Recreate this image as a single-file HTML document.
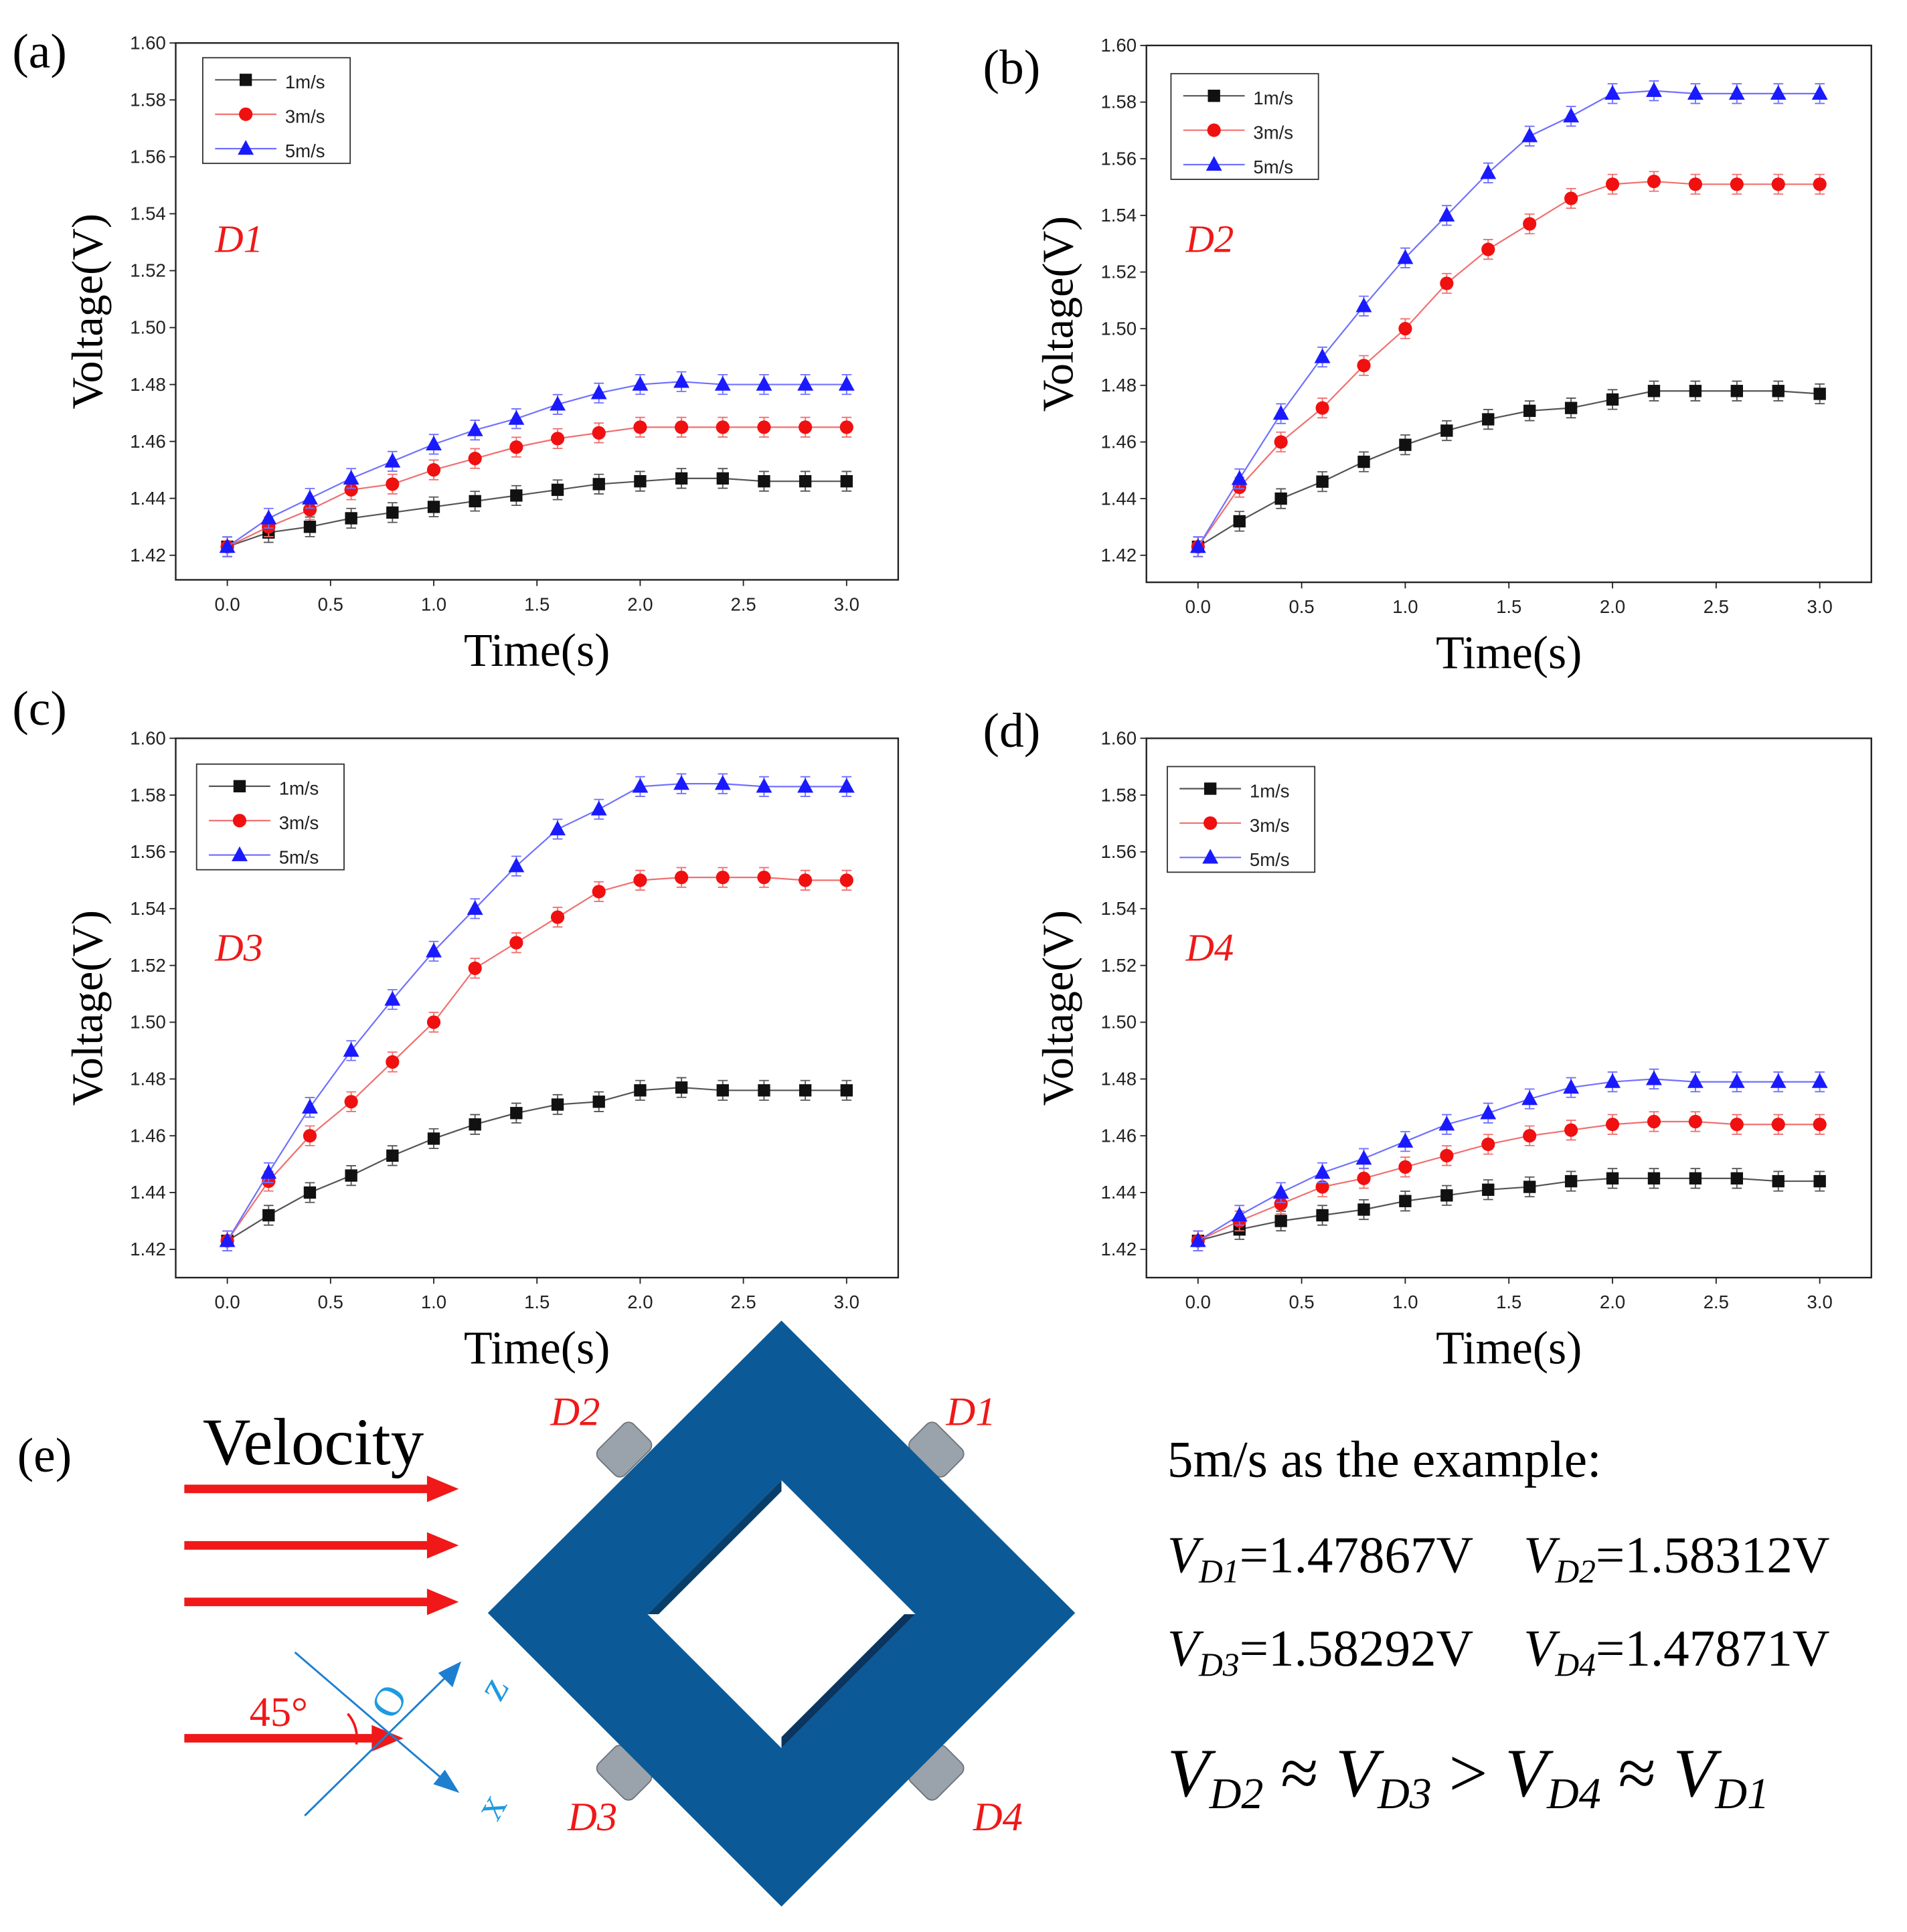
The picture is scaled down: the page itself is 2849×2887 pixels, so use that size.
<!DOCTYPE html>
<html><head><meta charset="utf-8">
<style>
html,body{margin:0;padding:0;background:#fff;}
svg{display:block;}
.tk{font-family:"Liberation Sans",sans-serif;font-size:15px;fill:#222;}
.ser{font-family:"Liberation Serif",serif;}
</style></head>
<body>
<svg id="fig" width="2849" height="2887" viewBox="0 0 1552 1572.7" xmlns="http://www.w3.org/2000/svg">
<g id="charts"></g>
<g id="panel-e">
  <text class="ser" x="14" y="1198" font-size="40">(e)</text>
  <text class="ser" x="165" y="1192" font-size="54">Velocity</text>
  <g fill="#f01818" stroke="#f01818">
    <line x1="150" y1="1212" x2="350" y2="1212" stroke-width="7"/><polygon points="348,1202 372,1212 348,1222"/>
    <line x1="150" y1="1258" x2="350" y2="1258" stroke-width="7"/><polygon points="348,1248 372,1258 348,1268"/>
    <line x1="150" y1="1304" x2="350" y2="1304" stroke-width="7"/><polygon points="348,1294 372,1304 348,1314"/>
    <line x1="150" y1="1415" x2="305" y2="1415" stroke-width="7"/><polygon points="303,1405 327,1415 303,1425"/>
  </g>
  <text class="ser" x="203" y="1405" font-size="34" fill="#f01818">45°</text>
  <path d="M283,1395 A30,30 0 0 1 290,1420" fill="none" stroke="#f01818" stroke-width="2"/>
  <g stroke="#1e7fd0" stroke-width="1.6" fill="#1e7fd0">
    <line x1="240" y1="1345" x2="360" y2="1448"/><polygon points="372,1458 354,1452 362,1442"/>
    <line x1="248" y1="1478" x2="362" y2="1366"/><polygon points="374,1354 368,1372 358,1362"/>
  </g>
  <text class="ser" x="305" y="1395" font-size="34" fill="#1e9ae0" transform="rotate(-60 318 1385)">O</text>
  <text class="ser" x="392" y="1380" font-size="34" fill="#1e9ae0" transform="rotate(-60 405 1370)">z</text>
  <text class="ser" x="390" y="1478" font-size="34" fill="#1e9ae0" transform="rotate(-60 402 1468)">x</text>
  <g fill="#9aa3ab" stroke="#6c747b">
    <rect x="488" y="1165" width="40" height="30" rx="6" transform="rotate(-45 508 1180)"/>
    <rect x="742" y="1165" width="40" height="30" rx="6" transform="rotate(45 762 1180)"/>
    <rect x="488" y="1428" width="40" height="30" rx="6" transform="rotate(45 508 1443)"/>
    <rect x="742" y="1428" width="40" height="30" rx="6" transform="rotate(-45 762 1443)"/>
  </g>
  <path fill-rule="evenodd" fill="#0b5a97" d="M636,1075 L875,1313 L636,1552 L397,1313 Z M636,1205 L527,1314 L636,1423 L745,1314 Z"/>
  <path d="M636,1205 L527,1314 L536,1314 L636,1214 Z" fill="#083e6a"/>
  <path d="M636,1423 L745,1314 L736,1314 L636,1414 Z" fill="#0a3560"/>
  <g class="ser" font-size="33" font-style="italic" fill="#f01818">
    <text x="448" y="1160">D2</text>
    <text x="770" y="1160">D1</text>
    <text x="462" y="1490">D3</text>
    <text x="792" y="1490">D4</text>
  </g>
  <text class="ser" x="950" y="1202" font-size="42">5m/s as the example:</text>
  <g class="ser" font-size="42">
    <text x="950" y="1280"><tspan font-style="italic">V</tspan><tspan font-size="27" font-style="italic" dy="8">D1</tspan><tspan dy="-8">=1.47867V</tspan></text>
    <text x="1240" y="1280"><tspan font-style="italic">V</tspan><tspan font-size="27" font-style="italic" dy="8">D2</tspan><tspan dy="-8">=1.58312V</tspan></text>
    <text x="950" y="1356"><tspan font-style="italic">V</tspan><tspan font-size="27" font-style="italic" dy="8">D3</tspan><tspan dy="-8">=1.58292V</tspan></text>
    <text x="1240" y="1356"><tspan font-style="italic">V</tspan><tspan font-size="27" font-style="italic" dy="8">D4</tspan><tspan dy="-8">=1.47871V</tspan></text>
  </g>
  <text class="ser" x="950" y="1462" font-size="56"><tspan font-style="italic">V</tspan><tspan font-size="36" font-style="italic" dy="10">D2</tspan><tspan dy="-10"> ≈ </tspan><tspan font-style="italic">V</tspan><tspan font-size="36" font-style="italic" dy="10">D3</tspan><tspan dy="-10"> &gt; </tspan><tspan font-style="italic">V</tspan><tspan font-size="36" font-style="italic" dy="10">D4</tspan><tspan dy="-10"> ≈ </tspan><tspan font-style="italic">V</tspan><tspan font-size="36" font-style="italic" dy="10">D1</tspan></text>
</g>
</svg>
<script>
const times = [0,0.2,0.4,0.6,0.8,1.0,1.2,1.4,1.6,1.8,2.0,2.2,2.4,2.6,2.8,3.0];
const seriesNames = ["1m/s","3m/s","5m/s"];
const yTicks = ["1.42","1.44","1.46","1.48","1.50","1.52","1.54","1.56","1.58","1.60"];
const xTicks = ["0.0","0.5","1.0","1.5","2.0","2.5","3.0"];
const d1_1 = [1.423,1.428,1.430,1.433,1.435,1.437,1.439,1.441,1.443,1.445,1.446,1.447,1.447,1.446,1.446,1.446];
const d1_3 = [1.423,1.430,1.436,1.443,1.445,1.450,1.454,1.458,1.461,1.463,1.465,1.465,1.465,1.465,1.465,1.465];
const d1_5 = [1.423,1.433,1.440,1.447,1.453,1.459,1.464,1.468,1.473,1.477,1.480,1.481,1.480,1.480,1.480,1.480];
const d2_1 = [1.423,1.432,1.440,1.446,1.453,1.459,1.464,1.468,1.471,1.472,1.475,1.478,1.478,1.478,1.478,1.477];
const d2_3 = [1.423,1.444,1.460,1.472,1.487,1.500,1.516,1.528,1.537,1.546,1.551,1.552,1.551,1.551,1.551,1.551];
const d2_5 = [1.423,1.447,1.470,1.490,1.508,1.525,1.540,1.555,1.568,1.575,1.583,1.584,1.583,1.583,1.583,1.583];
const d3_1 = [1.423,1.432,1.440,1.446,1.453,1.459,1.464,1.468,1.471,1.472,1.476,1.477,1.476,1.476,1.476,1.476];
const d3_3 = [1.423,1.444,1.460,1.472,1.486,1.500,1.519,1.528,1.537,1.546,1.550,1.551,1.551,1.551,1.550,1.550];
const d3_5 = [1.423,1.447,1.470,1.490,1.508,1.525,1.540,1.555,1.568,1.575,1.583,1.584,1.584,1.583,1.583,1.583];
const d4_1 = [1.423,1.427,1.430,1.432,1.434,1.437,1.439,1.441,1.442,1.444,1.445,1.445,1.445,1.445,1.444,1.444];
const d4_3 = [1.423,1.430,1.436,1.442,1.445,1.449,1.453,1.457,1.460,1.462,1.464,1.465,1.465,1.464,1.464,1.464];
const d4_5 = [1.423,1.432,1.440,1.447,1.452,1.458,1.464,1.468,1.473,1.477,1.479,1.480,1.479,1.479,1.479,1.479];

const NS="http://www.w3.org/2000/svg";
function mk(tag,attrs,parent){const e=document.createElementNS(NS,tag);for(const k in attrs)e.setAttribute(k,attrs[k]);parent.appendChild(e);return e;}
const colors=["#111","#f01010","#1a1aff"];
const lineColors=["#555","#f07070","#7070ff"];
const panels=[
 {id:"a",L:143,R:731,T:35,B:472,y0:452,data:[d1_1,d1_3,d1_5],tag:"D1",tagY:205,lab:[10,55],leg:[165,47]},
 {id:"b",L:933,R:1523,T:37,B:474,y0:452,data:[d2_1,d2_3,d2_5],tag:"D2",tagY:205,lab:[800,68],leg:[953,60]},
 {id:"c",L:143,R:731,T:601,B:1040,y0:1017,data:[d3_1,d3_3,d3_5],tag:"D3",tagY:782,lab:[10,590],leg:[160,622]},
 {id:"d",L:933,R:1523,T:601,B:1040,y0:1017,data:[d4_1,d4_3,d4_5],tag:"D4",tagY:782,lab:[800,608],leg:[950,624]}
];
const root=document.getElementById("charts");
panels.forEach(p=>{
  const g=mk("g",{},root);
  
  
  const xL=p.L+42, xR=p.R-42;
  const xs=v=>xL+(v/3)*(xR-xL);
  const ys=v=>p.y0-(v-1.42)/0.18*(p.y0-p.T);
  const fr=mk("rect",{x:p.L,y:p.T,width:p.R-p.L,height:p.B-p.T,fill:"none",stroke:"#222","stroke-width":1.3},g);
  
  
  yTicks.forEach(t=>{const y=ys(parseFloat(t));
    mk("line",{x1:p.L,x2:p.L-5,y1:y,y2:y,stroke:"#222"},g);
    const tx=mk("text",{x:p.L-8,y:y+5,"text-anchor":"end",class:"tk"},g);tx.textContent=t;
    
    });
  xTicks.forEach(t=>{const x=xs(parseFloat(t));
    mk("line",{x1:x,x2:x,y1:p.B,y2:p.B+5,stroke:"#222"},g);
    const tx=mk("text",{x:x,y:p.B+25,"text-anchor":"middle",class:"tk"},g);tx.textContent=t;
    
    });
  const yt=mk("text",{x:0,y:0,class:"ser","font-size":36,"text-anchor":"middle",transform:`translate(${p.L-60},${(p.T+p.B)/2}) rotate(-90)`},g);
  yt.textContent="Voltage(V)";
  
  
  const xt=mk("text",{x:(p.L+p.R)/2,y:p.B+70,class:"ser","font-size":38,"text-anchor":"middle"},g);
  xt.textContent="Time(s)";
  
  
  const pl=mk("text",{x:p.lab[0],y:p.lab[1],class:"ser","font-size":40},g);
  pl.textContent="("+p.id+")";
  
  
  const dl=mk("text",{x:p.L+32,y:p.tagY,class:"ser","font-size":32,"font-style":"italic",fill:"#f01818"},g);
  dl.textContent=p.tag;
  
  
  p.data.forEach((arr,si)=>{
    const sg=mk("g",{},g);
    
    
    mk("polyline",{points:arr.map((v,i)=>xs(times[i])+","+ys(v)).join(" "),fill:"none",stroke:lineColors[si],"stroke-width":1.2},sg);
    arr.forEach((v,i)=>{const x=xs(times[i]),y=ys(v);
      mk("path",{d:`M${x-4},${y-8}h8M${x},${y-8}v16M${x-4},${y+8}h8`,stroke:lineColors[si],"stroke-width":1,fill:"none"},sg);
      let m;
      if(si===0)m=mk("rect",{x:x-5,y:y-5,width:10,height:10,fill:colors[0]},sg);
      else if(si===1)m=mk("circle",{cx:x,cy:y,r:5.5,fill:colors[1]},sg);
      else m=mk("polygon",{points:`${x},${y-7} ${x+6.5},${y+5} ${x-6.5},${y+5}`,fill:colors[2]},sg);
      
      
    });
  });
  const lg=mk("g",{},g);
  
  
  const [lx,ly]=p.leg;
  mk("rect",{x:lx,y:ly,width:120,height:86,fill:"#fff",stroke:"#333","stroke-width":1},lg);
  seriesNames.forEach((n,si)=>{const y=ly+18+si*28;
    mk("line",{x1:lx+10,x2:lx+60,y1:y,y2:y,stroke:lineColors[si],"stroke-width":1.2},lg);
    const x=lx+35;
    if(si===0)mk("rect",{x:x-5,y:y-5,width:10,height:10,fill:colors[0]},lg);
    else if(si===1)mk("circle",{cx:x,cy:y,r:5.5,fill:colors[1]},lg);
    else mk("polygon",{points:`${x},${y-7} ${x+6.5},${y+5} ${x-6.5},${y+5}`,fill:colors[2]},lg);
    const t=mk("text",{x:lx+67,y:y+7,class:"tk","font-size":19},lg);t.textContent=n;
    
    
  });
});
</script>
</body></html>
